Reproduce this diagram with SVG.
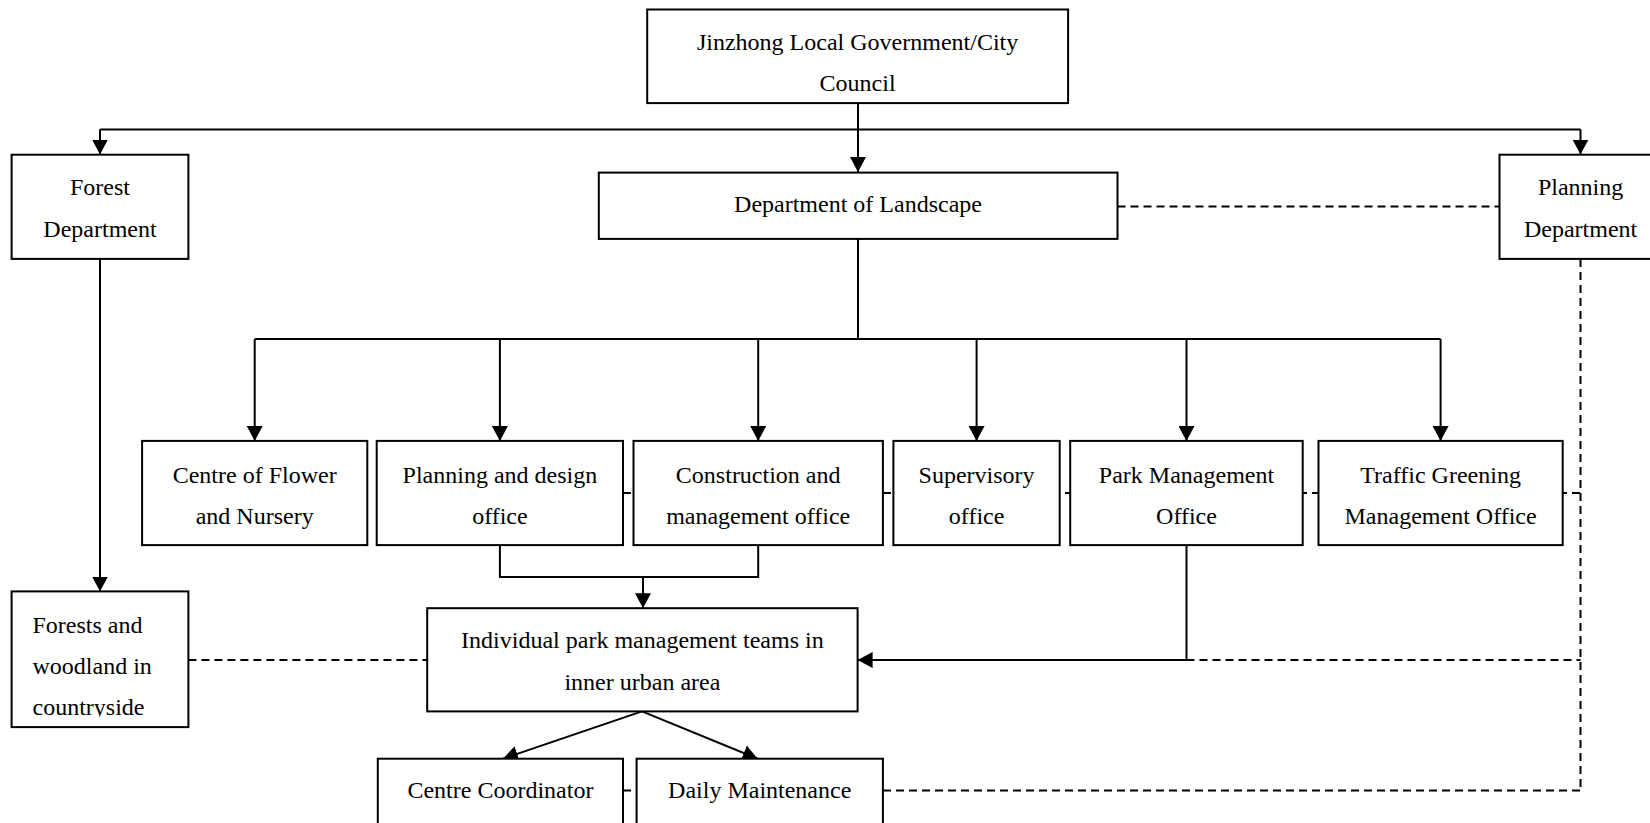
<svg xmlns="http://www.w3.org/2000/svg" width="1650" height="823" viewBox="0 0 1650 823">
  <style>
    .box { fill: #ffffff; stroke: #000000; stroke-width: 2; }
    .lbl { font-family: "Liberation Serif", "Times New Roman", serif; font-size: 24px; fill: #000000; text-anchor: middle; }
    .lft { text-anchor: start; }
    .solid { fill: none; stroke: #000000; stroke-width: 2; }
    .dash { fill: none; stroke: #000000; stroke-width: 2; stroke-dasharray: 8 5; }
  </style>
  <defs>
    <marker id="arrow" viewBox="0 0 15 16" markerWidth="15" markerHeight="16" refX="15" refY="8" orient="auto" markerUnits="userSpaceOnUse">
      <path d="M0,0 L15,8 L0,16 z" fill="#000000"/>
    </marker>
    <!-- text area of the countryside box stops short of its bottom edge -->
    <clipPath id="clip-forests">
      <rect x="12" y="592" width="176" height="124.5"/>
    </clipPath>
  </defs>
  <rect width="1650" height="823" fill="#ffffff"/>

  <!-- connectors -->
  <g id="connectors">
    <!-- council to departments -->
    <path class="solid" d="M858,103 V172" marker-end="url(#arrow)"/>
    <path class="solid" d="M100,129.5 H1580.5"/>
    <path class="solid" d="M100,129.5 V154.5" marker-end="url(#arrow)"/>
    <path class="solid" d="M1580.5,129.5 V154.5" marker-end="url(#arrow)"/>
    <!-- landscape to offices -->
    <path class="solid" d="M858,239 V339 M254.7,339 H1440.6"/>
    <path class="solid" d="M254.7,339 V441" marker-end="url(#arrow)"/>
    <path class="solid" d="M499.9,339 V441" marker-end="url(#arrow)"/>
    <path class="solid" d="M758.2,339 V441" marker-end="url(#arrow)"/>
    <path class="solid" d="M976.6,339 V441" marker-end="url(#arrow)"/>
    <path class="solid" d="M1186.5,339 V441" marker-end="url(#arrow)"/>
    <path class="solid" d="M1440.6,339 V441" marker-end="url(#arrow)"/>
    <!-- forest department to countryside -->
    <path class="solid" d="M100,259 V591.5" marker-end="url(#arrow)"/>
    <!-- planning/construction to park teams -->
    <path class="solid" d="M499.9,545 V577 H758.2 V545"/>
    <path class="solid" d="M643,577 V608.2" marker-end="url(#arrow)"/>
    <!-- park management to park teams -->
    <path class="solid" d="M1186.5,545 V660 H857.6" marker-end="url(#arrow)"/>
    <!-- park teams to sub-units -->
    <path class="solid" d="M642,711.4 L503,758.7" marker-end="url(#arrow)"/>
    <path class="solid" d="M642,711.4 L757.7,758.7" marker-end="url(#arrow)"/>
    <!-- dashed liaison lines -->
    <path class="dash" d="M1117.5,206.5 H1499.5"/>
    <path class="dash" d="M1580.5,259 V790.5"/>
    <path class="dash" d="M623,493 H1580.5"/>
    <path class="dash" d="M1186.5,660 H1580.5"/>
    <path class="dash" d="M188.4,660 H427.2"/>
    <path class="dash" d="M623,790.5 H1580.5"/>
  </g>

  <g id="node-council">
    <rect class="box" x="647.2" y="9.5" width="420.9" height="93.6"/>
    <text class="lbl" x="857.6" y="50">Jinzhong Local Government/City</text>
    <text class="lbl" x="857.6" y="91">Council</text>
  </g>
  <g id="node-landscape">
    <rect class="box" x="598.8" y="172.6" width="518.7" height="66.3"/>
    <text class="lbl" x="858" y="212">Department of Landscape</text>
  </g>
  <g id="node-forest">
    <rect class="box" x="11.6" y="154.7" width="176.8" height="104.2"/>
    <text class="lbl" x="100" y="195">Forest</text>
    <text class="lbl" x="100" y="237">Department</text>
  </g>
  <g id="node-planning">
    <rect class="box" x="1499.5" y="154.7" width="176.8" height="104.2"/>
    <text class="lbl" x="1580.6" y="195">Planning</text>
    <text class="lbl" x="1580.6" y="237">Department</text>
  </g>

  <g id="node-flower">
    <rect class="box" x="142.1" y="440.9" width="225.2" height="104.2"/>
    <text class="lbl" x="254.7" y="483">Centre of Flower</text>
    <text class="lbl" x="254.7" y="524">and Nursery</text>
  </g>
  <g id="node-design">
    <rect class="box" x="376.7" y="440.9" width="246.3" height="104.2"/>
    <text class="lbl" x="499.9" y="483">Planning and design</text>
    <text class="lbl" x="499.9" y="524">office</text>
  </g>
  <g id="node-construction">
    <rect class="box" x="633.5" y="440.9" width="249.4" height="104.2"/>
    <text class="lbl" x="758.2" y="483">Construction and</text>
    <text class="lbl" x="758.2" y="524">management office</text>
  </g>
  <g id="node-supervisory">
    <rect class="box" x="893.4" y="440.9" width="166.3" height="104.2"/>
    <text class="lbl" x="976.6" y="483">Supervisory</text>
    <text class="lbl" x="976.6" y="524">office</text>
  </g>
  <g id="node-park">
    <rect class="box" x="1070.2" y="440.9" width="232.5" height="104.2"/>
    <text class="lbl" x="1186.5" y="483">Park Management</text>
    <text class="lbl" x="1186.5" y="524">Office</text>
  </g>
  <g id="node-traffic">
    <rect class="box" x="1318.5" y="440.9" width="244.2" height="104.2"/>
    <text class="lbl" x="1440.6" y="483">Traffic Greening</text>
    <text class="lbl" x="1440.6" y="524">Management Office</text>
  </g>

  <g id="node-forests">
    <rect class="box" x="11.6" y="591.4" width="176.8" height="135.7"/>
    <g clip-path="url(#clip-forests)">
      <text class="lbl lft" x="32.5" y="633">Forests and</text>
      <text class="lbl lft" x="32.5" y="674">woodland in</text>
      <text class="lbl lft" x="32.5" y="715">countryside</text>
    </g>
  </g>
  <g id="node-teams">
    <rect class="box" x="427.2" y="608.2" width="430.4" height="103.2"/>
    <text class="lbl" x="642.4" y="648">Individual park management teams in</text>
    <text class="lbl" x="642.4" y="690">inner urban area</text>
  </g>
  <g id="node-coordinator">
    <rect class="box" x="377.8" y="758.7" width="245.2" height="80"/>
    <text class="lbl" x="500.4" y="798">Centre Coordinator</text>
  </g>
  <g id="node-maintenance">
    <rect class="box" x="636.6" y="758.7" width="246.3" height="80"/>
    <text class="lbl" x="759.7" y="798">Daily Maintenance</text>
  </g>
</svg>
